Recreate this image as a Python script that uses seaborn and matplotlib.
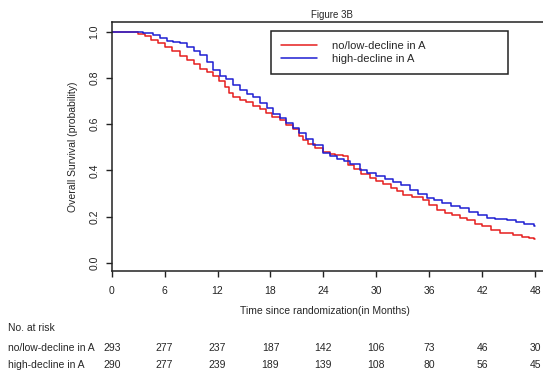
import numpy as np
import pandas as pd
import matplotlib
matplotlib.use("Agg")
import matplotlib.pyplot as plt
import seaborn as sns

# ---- data ----
t_low = [0, 2.4, 3.0, 3.8, 4.5, 5.3, 6.0, 6.8, 7.7, 8.5, 9.3, 10.0, 10.8, 11.5, 12.2, 12.8,
         13.3, 13.8, 14.5, 15.2, 16.0, 16.8, 17.5, 18.2, 19.1, 19.8, 20.5, 21.2, 21.7, 22.3,
         23.0, 24.0, 24.7, 25.3, 26.2, 26.8, 27.5, 28.3, 29.3, 30.0, 30.8, 31.7, 32.4, 33.0,
         34.0, 35.3, 36.0, 36.9, 37.8, 38.6, 39.5, 40.3, 41.2, 42.0, 43.0, 44.0, 45.5, 46.5,
         47.3, 47.9, 48.0]
s_low = [1.0, 0.997, 0.99, 0.98, 0.965, 0.95, 0.935, 0.915, 0.893, 0.875, 0.858, 0.84, 0.825,
         0.808, 0.785, 0.76, 0.735, 0.718, 0.705, 0.695, 0.68, 0.665, 0.648, 0.632, 0.616,
         0.598, 0.578, 0.55, 0.531, 0.515, 0.498, 0.478, 0.470, 0.466, 0.462, 0.423, 0.405,
         0.385, 0.367, 0.355, 0.342, 0.325, 0.31, 0.294, 0.285, 0.272, 0.25, 0.229, 0.215,
         0.205, 0.195, 0.186, 0.17, 0.158, 0.142, 0.13, 0.121, 0.113, 0.107, 0.102, 0.102]

t_high = [0, 2.8, 3.5, 4.7, 5.5, 6.3, 7.0, 7.75, 8.5, 9.3, 10.0, 10.8, 11.5, 12.3, 13.0, 13.7,
          14.5, 15.3, 16.0, 16.8, 17.6, 18.3, 19.1, 19.8, 20.5, 21.2, 22.0, 22.8, 24.0, 24.8,
          25.5, 26.3, 27.0, 28.2, 29.0, 30.0, 31.0, 31.9, 32.8, 33.8, 34.7, 35.7, 36.5, 37.5,
          38.5, 39.5, 40.5, 41.5, 42.5, 43.5, 44.8, 45.8, 46.8, 47.9, 48.0]
s_high = [1.0, 0.997, 0.992, 0.984, 0.97, 0.958, 0.955, 0.95, 0.934, 0.915, 0.898, 0.87,
          0.832, 0.81, 0.795, 0.77, 0.748, 0.732, 0.718, 0.692, 0.668, 0.645, 0.626, 0.605,
          0.585, 0.56, 0.535, 0.51, 0.475, 0.46, 0.447, 0.44, 0.428, 0.402, 0.39, 0.375,
          0.362, 0.351, 0.335, 0.315, 0.297, 0.279, 0.27, 0.258, 0.247, 0.236, 0.222, 0.205,
          0.193, 0.188, 0.186, 0.178, 0.17, 0.16, 0.16]

group_names = ["no/low-decline in A", "high-decline in A"]
risk_times = [0, 6, 12, 18, 24, 30, 36, 42, 48]
risk_low = [293, 277, 237, 187, 142, 106, 73, 46, 30]
risk_high = [290, 277, 239, 189, 139, 108, 80, 56, 45]
x_ticks = [0, 6, 12, 18, 24, 30, 36, 42, 48]
y_ticks = [0.0, 0.2, 0.4, 0.6, 0.8, 1.0]

df = pd.DataFrame({
    "time": t_low + t_high,
    "surv": s_low + s_high,
    "group": [group_names[0]] * len(t_low) + [group_names[1]] * len(t_high),
})

sns.set_style("ticks")
plt.rcParams["font.family"] = ["Liberation Sans", "DejaVu Sans"]

fig = plt.figure(figsize=(5.43, 3.75), dpi=100)
W, H = 543, 375
ax_left, ax_right, ax_top, ax_bottom = 111.7, 548.3, 22.3, 271.0
ax = fig.add_axes([ax_left / W, 1 - ax_bottom / H, (ax_right - ax_left) / W, (ax_bottom - ax_top) / H])

palette = {group_names[0]: "#e61e1e", group_names[1]: "#1e1ed2"}
sns.lineplot(data=df, x="time", y="surv", hue="group", palette=palette,
             estimator=None, drawstyle="steps-post", linewidth=1.1, ax=ax, legend=True)

ax.set_xlim(0, 49.5)
ax.set_ylim(-0.035, 1.04)
ax.set_xticks(x_ticks)
ax.set_xticklabels([str(v) for v in x_ticks])
ax.set_yticks(y_ticks)
ax.set_yticklabels([f"{v:.1f}" for v in y_ticks], rotation=90, va="center")
for sp in ["left", "bottom", "top"]:
    ax.spines[sp].set_linewidth(1.1)
    ax.spines[sp].set_color("#222222")
ax.spines["right"].set_visible(False)
ax.tick_params(axis="both", direction="out", length=4, width=1.0, labelsize=7.5,
               colors="#222222", pad=5)
ax.tick_params(axis="x", pad=7)

ax.set_xlabel("")
ax.set_ylabel("Overall Survival (probability)", fontsize=7.5, labelpad=8)
fig.text(325 / W, 1 - 311 / H, "Time since randomization(in Months)", ha="center", va="center",
         fontsize=7.5)
fig.text(332 / W, 1 - 15 / H, "Figure 3B", ha="center", va="center", fontsize=7)

# legend
handles, labels = ax.get_legend_handles_labels()
leg = ax.legend(handles, labels, loc="upper left",
                bbox_to_anchor=(271 / W, 1 - 72 / H, (508 - 271) / W, 41 / H),
                bbox_transform=fig.transFigure, mode="expand", borderaxespad=0,
                fontsize=8, handlelength=3.2, handletextpad=1.4, labelspacing=0.25,
                borderpad=0.9, fancybox=False, framealpha=1, edgecolor="#222222")
leg.get_frame().set_linewidth(1.1)
for line in leg.get_lines():
    line.set_linewidth(1.1)

# at-risk table
trans = ax.get_xaxis_transform()
fig.text(8 / W, 1 - 328 / H, "No. at risk", ha="left", va="center", fontsize=7.5)
fig.text(8 / W, 1 - 348 / H, group_names[0], ha="left", va="center", fontsize=7.5)
fig.text(8 / W, 1 - 365 / H, group_names[1], ha="left", va="center", fontsize=7.5)
ax_h = ax_bottom - ax_top
for tx, a, b in zip(risk_times, risk_low, risk_high):
    ax.text(tx, (ax_bottom - 348) / ax_h, str(a), transform=trans, ha="center", va="center",
            fontsize=7.5, clip_on=False)
    ax.text(tx, (ax_bottom - 365) / ax_h, str(b), transform=trans, ha="center", va="center",
            fontsize=7.5, clip_on=False)

fig.savefig("out.png", dpi=100)
